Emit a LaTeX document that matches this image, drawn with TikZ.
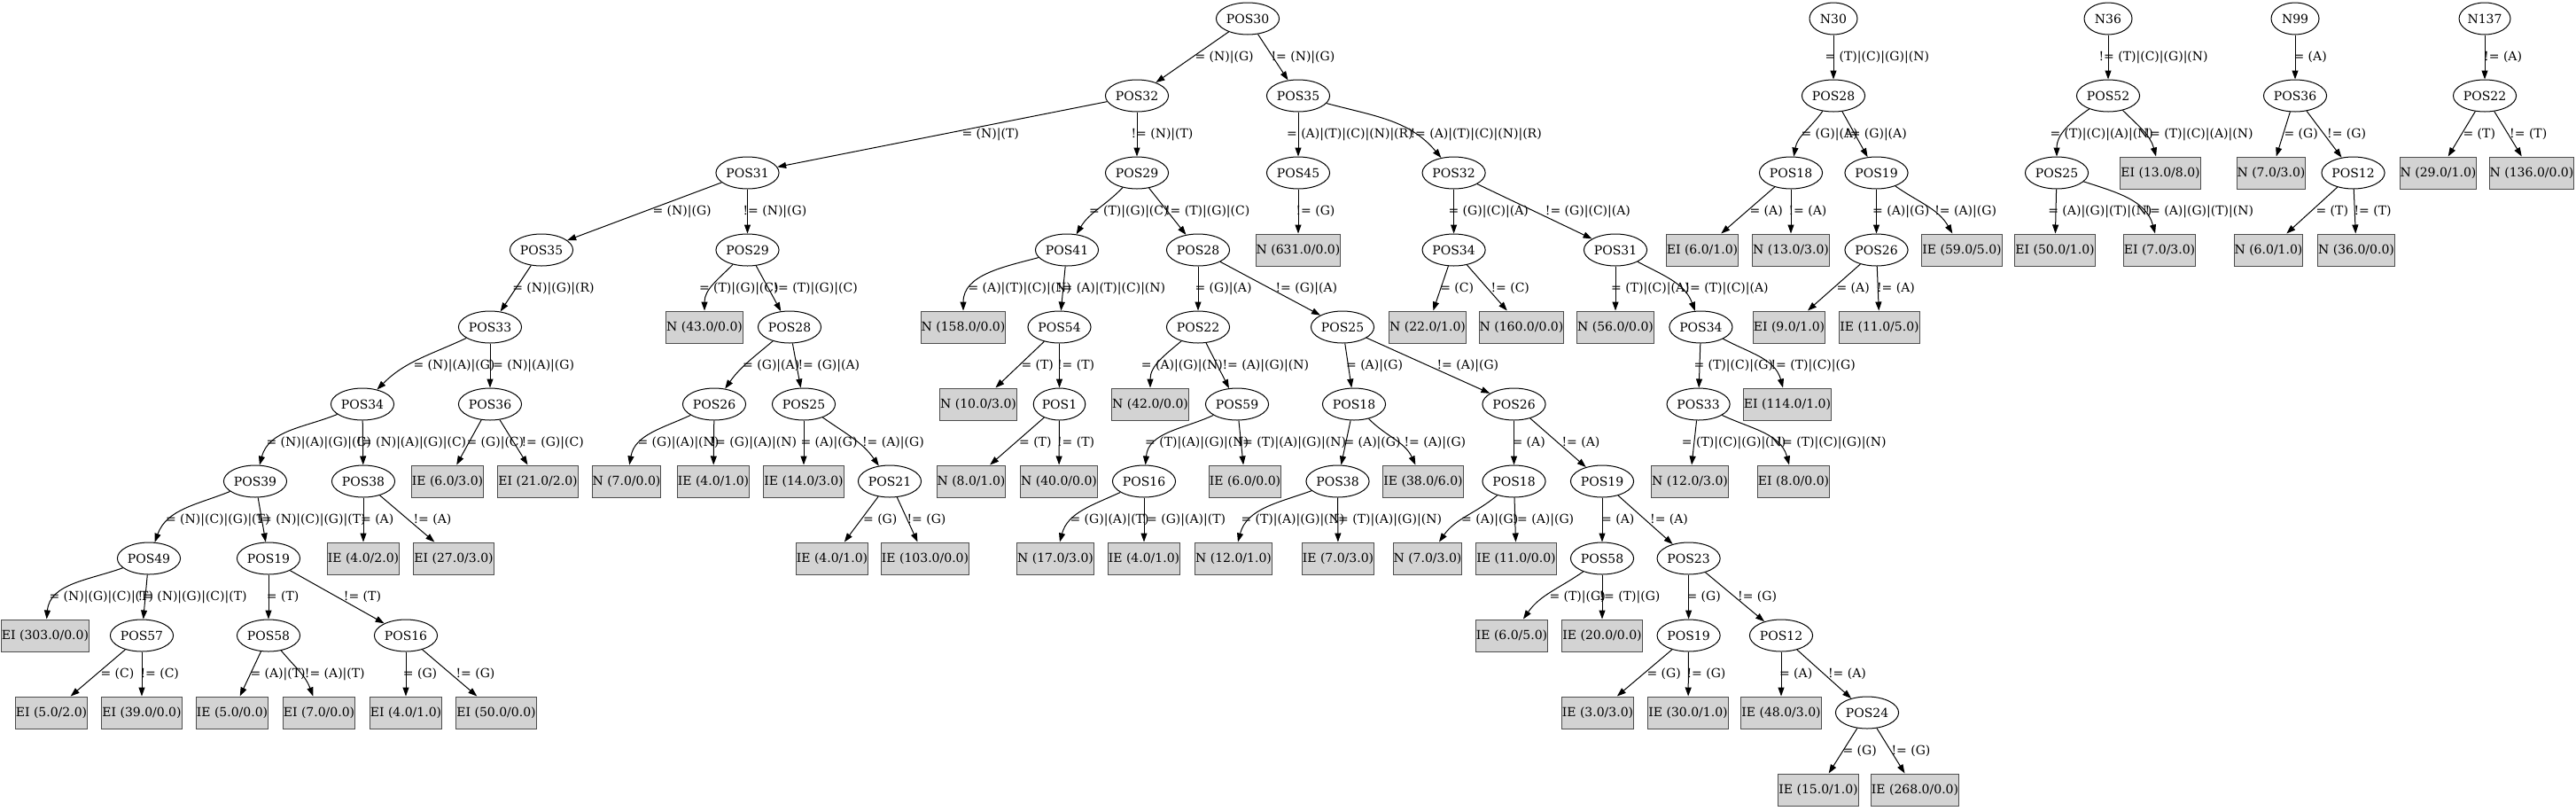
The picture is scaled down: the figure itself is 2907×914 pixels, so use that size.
\documentclass[tikz,border=0pt]{standalone}
\usepackage{fontspec}
\setmainfont{DejaVu Serif}
\usepackage{tikz}
\usetikzlibrary{arrows.meta,shapes.geometric}
\definecolor{LeafGray}{HTML}{D3D3D3}
\definecolor{LeafLine}{HTML}{4D4D4D}
\newcommand{\treefont}{\fontsize{14}{16}\selectfont}

\begin{document}
\begin{tikzpicture}[
    x=1pt, y=1pt,
    split/.style={
      ellipse,
      draw,
      line width=1pt,
      minimum width=54pt,
      minimum height=36pt,
      inner xsep=1pt,
      font=\treefont
    },
    leaf/.style={
      draw=LeafLine,
      fill=LeafGray,
      line width=1pt,
      minimum height=36pt,
      inner xsep=0.5pt,
      font=\treefont
    },
    lbl/.style={
      anchor=west,
      inner sep=0pt,
      font=\treefont
    },
    arr/.style={
      -{Triangle[length=10pt,width=7pt]},
      line width=1pt
    }
  ]
  \useasboundingbox (0,0) rectangle (2907,-914);

  % POS30 tree, splits
  \node[split] (pos30)  at (1408,-21)    {POS30};
  \node[split] (pos32a) at (1283,-108)   {POS32};
  \node[split] (pos35a) at (1465,-108)   {POS35};
  \node[split] (pos31a) at (843.5,-195)  {POS31};
  \node[split] (pos29a) at (1283,-195)   {POS29};
  \node[split] (pos45)  at (1465,-195)   {POS45};
  \node[split] (pos32b) at (1640.6,-195) {POS32};
  \node[split] (pos35b) at (611,-282)    {POS35};
  \node[split] (pos29b) at (843.5,-282)  {POS29};
  \node[split] (pos41)  at (1204,-282)   {POS41};
  \node[split] (pos28b) at (1352,-282)   {POS28};
  \node[split] (pos34a) at (1640.6,-282) {POS34};
  \node[split] (pos31b) at (1823,-282)   {POS31};
  \node[split] (pos33a) at (553,-369)    {POS33};
  \node[split] (pos28c) at (891,-369)    {POS28};
  \node[split] (pos54)  at (1195.5,-369) {POS54};
  \node[split] (pos22b) at (1352,-369)   {POS22};
  \node[split] (pos25b) at (1515,-369)   {POS25};
  \node[split] (pos34b) at (1919.4,-369) {POS34};
  \node[split] (pos34c) at (409,-456)    {POS34};
  \node[split] (pos36b) at (553,-456)    {POS36};
  \node[split] (pos26b) at (806,-456)    {POS26};
  \node[split] (pos25c) at (907,-456)    {POS25};
  \node[split] (pos1)   at (1195.5,-456) {POS1};
  \node[split] (pos59)  at (1396,-456)   {POS59};
  \node[split] (pos18b) at (1528,-456)   {POS18};
  \node[split] (pos26c) at (1708.5,-456) {POS26};
  \node[split] (pos33b) at (1916.6,-456) {POS33};
  \node[split] (pos39)  at (288,-543)    {POS39};
  \node[split] (pos38a) at (410,-543)    {POS38};
  \node[split] (pos21)  at (1004,-543)   {POS21};
  \node[split] (pos16a) at (1291,-543)   {POS16};
  \node[split] (pos38b) at (1509.5,-543) {POS38};
  \node[split] (pos18c) at (1708.5,-543) {POS18};
  \node[split] (pos19b) at (1808,-543)   {POS19};
  \node[split] (pos49)  at (168,-630)    {POS49};
  \node[split] (pos19c) at (303,-630)    {POS19};
  \node[split] (pos58a) at (1808,-630)   {POS58};
  \node[split] (pos23)  at (1905.6,-630) {POS23};
  \node[split] (pos57)  at (160,-717)    {POS57};
  \node[split] (pos58b) at (303,-717)    {POS58};
  \node[split] (pos16b) at (458,-717)    {POS16};
  \node[split] (pos19d) at (1905.6,-717) {POS19};
  \node[split] (pos12b) at (2010,-717)   {POS12};
  \node[split] (pos24)  at (2107,-804)   {POS24};

  % POS30 tree, leaves
  \node[leaf] (n631)  at (1465,-282) {N (631.0/0.0)};
  \node[leaf] (n43)   at (795,-369)  {N (43.0/0.0)};
  \node[leaf] (n158)  at (1087,-369) {N (158.0/0.0)};
  \node[leaf] (n22)   at (1611,-369) {N (22.0/1.0)};
  \node[leaf] (n160)  at (1717,-369) {N (160.0/0.0)};
  \node[leaf] (n56)   at (1823,-369) {N (56.0/0.0)};
  \node[leaf] (n10)   at (1104,-456) {N (10.0/3.0)};
  \node[leaf] (n42)   at (1298,-456) {N (42.0/0.0)};
  \node[leaf] (ei114) at (2017,-456) {EI (114.0/1.0)};
  \node[leaf] (ie6a)  at (505,-543)  {IE (6.0/3.0)};
  \node[leaf] (ei21)  at (607,-543)  {EI (21.0/2.0)};
  \node[leaf] (n7a)   at (707,-543)  {N (7.0/0.0)};
  \node[leaf] (ie4a)  at (805,-543)  {IE (4.0/1.0)};
  \node[leaf] (ie14)  at (907,-543)  {IE (14.0/3.0)};
  \node[leaf] (n8)    at (1096,-543) {N (8.0/1.0)};
  \node[leaf] (n40)   at (1195,-543) {N (40.0/0.0)};
  \node[leaf] (ie6b)  at (1405,-543) {IE (6.0/0.0)};
  \node[leaf] (ie38)  at (1606,-543) {IE (38.0/6.0)};
  \node[leaf] (n12b)  at (1907,-543) {N (12.0/3.0)};
  \node[leaf] (ei8)   at (2024,-543) {EI (8.0/0.0)};
  \node[leaf] (ie4b)  at (410,-630)  {IE (4.0/2.0)};
  \node[leaf] (ei27)  at (512,-630)  {EI (27.0/3.0)};
  \node[leaf] (ie4c)  at (939,-630)  {IE (4.0/1.0)};
  \node[leaf] (ie103) at (1044,-630) {IE (103.0/0.0)};
  \node[leaf] (n17)   at (1191,-630) {N (17.0/3.0)};
  \node[leaf] (ie4d)  at (1291,-630) {IE (4.0/1.0)};
  \node[leaf] (n12a)  at (1392,-630) {N (12.0/1.0)};
  \node[leaf] (ie7)   at (1510,-630) {IE (7.0/3.0)};
  \node[leaf] (n7c)   at (1611,-630) {N (7.0/3.0)};
  \node[leaf] (ie11a) at (1711,-630) {IE (11.0/0.0)};
  \node[leaf] (ei303) at (51,-717)   {EI (303.0/0.0)};
  \node[leaf] (ie6c)  at (1706,-717) {IE (6.0/5.0)};
  \node[leaf] (ie20)  at (1808,-717) {IE (20.0/0.0)};
  \node[leaf] (ei5)   at (58,-804)   {EI (5.0/2.0)};
  \node[leaf] (ei39)  at (160,-804)  {EI (39.0/0.0)};
  \node[leaf] (ie5)   at (262,-804)  {IE (5.0/0.0)};
  \node[leaf] (ei7a)  at (360,-804)  {EI (7.0/0.0)};
  \node[leaf] (ei4)   at (458,-804)  {EI (4.0/1.0)};
  \node[leaf] (ei50a) at (560,-804)  {EI (50.0/0.0)};
  \node[leaf] (ie3)   at (1803,-804) {IE (3.0/3.0)};
  \node[leaf] (ie30)  at (1905,-804) {IE (30.0/1.0)};
  \node[leaf] (ie48)  at (2010,-804) {IE (48.0/3.0)};
  \node[leaf] (ie15)  at (2052,-891) {IE (15.0/1.0)};
  \node[leaf] (ie268) at (2161,-891) {IE (268.0/0.0)};

  % N30 tree
  \node[split] (n30)    at (2069,-21)    {N30};
  \node[split] (pos28a) at (2069,-108)   {POS28};
  \node[split] (pos18a) at (2021,-195)   {POS18};
  \node[split] (pos19a) at (2117.5,-195) {POS19};
  \node[split] (pos26a) at (2117.5,-282) {POS26};
  \node[leaf]  (ei6)    at (1921,-282)   {EI (6.0/1.0)};
  \node[leaf]  (n13)    at (2021,-282)   {N (13.0/3.0)};
  \node[leaf]  (ie59)   at (2214,-282)   {IE (59.0/5.0)};
  \node[leaf]  (ei9)    at (2019,-369)   {EI (9.0/1.0)};
  \node[leaf]  (ie11b)  at (2121,-369)   {IE (11.0/5.0)};

  % N36 tree
  \node[split] (n36)   at (2379,-21)  {N36};
  \node[split] (pos52) at (2379,-108) {POS52};
  \node[split] (pos25a) at (2321,-195) {POS25};
  \node[leaf]  (ei13)  at (2438,-195) {EI (13.0/8.0)};
  \node[leaf]  (ei50b) at (2319,-282) {EI (50.0/1.0)};
  \node[leaf]  (ei7c)  at (2437,-282) {EI (7.0/3.0)};

  % N99 tree
  \node[split] (n99)    at (2590,-21)    {N99};
  \node[split] (pos36a) at (2590,-108)   {POS36};
  \node[split] (pos12a) at (2655.5,-195) {POS12};
  \node[leaf]  (n7b)    at (2563,-195)   {N (7.0/3.0)};
  \node[leaf]  (n6)     at (2560,-282)   {N (6.0/1.0)};
  \node[leaf]  (n36l)   at (2659,-282)   {N (36.0/0.0)};

  % N137 tree
  \node[split] (n137)   at (2804,-21)  {N137};
  \node[split] (pos22a) at (2804,-108) {POS22};
  \node[leaf]  (n29)    at (2751.5,-195) {N (29.0/1.0)};
  \node[leaf]  (n136)   at (2857,-195) {N (136.0/0.0)};

  % Arrows, POS30 tree
  \draw[arr] (pos30) -- (pos32a) node[lbl] at (1348,-64.5) {= (N)|(G)};
  \draw[arr] (pos30) -- (pos35a) node[lbl] at (1434,-64.5) {!= (N)|(G)};
  \draw[arr] (pos32a) -- (pos31a) node[lbl] at (1085,-151.5) {= (N)|(T)};
  \draw[arr] (pos32a) -- (pos29a) node[lbl] at (1276,-151.5) {!= (N)|(T)};
  \draw[arr] (pos35a) -- (pos45) node[lbl] at (1451.6,-151.5) {= (A)|(T)|(C)|(N)|(R)};
  \draw[arr] (pos35a) to[out=-15,in=130] (pos32b) node[lbl] at (1591,-151.5) {!= (A)|(T)|(C)|(N)|(R)};
  \draw[arr] (pos31a) -- (pos35b) node[lbl] at (736,-238.5) {= (N)|(G)};
  \draw[arr] (pos31a) -- (pos29b) node[lbl] at (838,-238.5) {!= (N)|(G)};
  \draw[arr] (pos29a) to[out=-134,in=59] (pos41) node[lbl] at (1228.5,-238.5) {= (T)|(G)|(C)};
  \draw[arr] (pos29a) -- (pos28b) node[lbl] at (1314.6,-238.5) {!= (T)|(G)|(C)};
  \draw[arr] (pos45) -- (n631) node[lbl] at (1462,-238.5) {!= (G)};
  \draw[arr] (pos32b) -- (pos34a) node[lbl] at (1634,-238.5) {= (G)|(C)|(A)};
  \draw[arr] (pos32b) -- (pos31b) node[lbl] at (1743.4,-238.5) {!= (G)|(C)|(A)};
  \draw[arr] (pos35b) -- (pos33a) node[lbl] at (577.8,-325.5) {= (N)|(G)|(R)};
  \draw[arr] (pos29b) to[out=-135,in=90] (n43) node[lbl] at (788.5,-325.5) {= (T)|(G)|(C)};
  \draw[arr] (pos29b) -- (pos28c) node[lbl] at (872,-325.5) {!= (T)|(G)|(C)};
  \draw[arr] (pos41) to[out=-165,in=90] (n158) node[lbl] at (1092,-325.5) {= (A)|(T)|(C)|(N)};
  \draw[arr] (pos41) -- (pos54) node[lbl] at (1192.6,-325.5) {!= (A)|(T)|(C)|(N)};
  \draw[arr] (pos28b) -- (pos22b) node[lbl] at (1348,-325.5) {= (G)|(A)};
  \draw[arr] (pos28b) -- (pos25b) node[lbl] at (1439,-325.5) {!= (G)|(A)};
  \draw[arr] (pos34a) -- (n22) node[lbl] at (1624.8,-325.5) {= (C)};
  \draw[arr] (pos34a) -- (n160) node[lbl] at (1682,-325.5) {!= (C)};
  \draw[arr] (pos31b) -- (n56) node[lbl] at (1817.6,-325.5) {= (T)|(C)|(A)};
  \draw[arr] (pos31b) to[out=-28,in=110] (pos34b) node[lbl] at (1901,-325.5) {!= (T)|(C)|(A)};
  \draw[arr] (pos33a) to[out=-155,in=45] (pos34c) node[lbl] at (466,-412.5) {= (N)|(A)|(G)};
  \draw[arr] (pos33a) -- (pos36b) node[lbl] at (550,-412.5) {!= (N)|(A)|(G)};
  \draw[arr] (pos28c) to[out=-140,in=55] (pos26b) node[lbl] at (837.7,-412.5) {= (G)|(A)};
  \draw[arr] (pos28c) -- (pos25c) node[lbl] at (900,-412.5) {!= (G)|(A)};
  \draw[arr] (pos54) -- (n10) node[lbl] at (1152,-412.5) {= (T)};
  \draw[arr] (pos54) -- (pos1) node[lbl] at (1192.6,-412.5) {!= (T)};
  \draw[arr] (pos22b) to[out=-140,in=90] (n42) node[lbl] at (1287.4,-412.5) {= (A)|(G)|(N)};
  \draw[arr] (pos22b) -- (pos59) node[lbl] at (1379,-412.5) {!= (A)|(G)|(N)};
  \draw[arr] (pos25b) -- (pos18b) node[lbl] at (1518.6,-412.5) {= (A)|(G)};
  \draw[arr] (pos25b) -- (pos26c) node[lbl] at (1621,-412.5) {!= (A)|(G)};
  \draw[arr] (pos34b) -- (pos33b) node[lbl] at (1911,-412.5) {= (T)|(C)|(G)};
  \draw[arr] (pos34b) to[out=-28,in=105] (ei114) node[lbl] at (1998,-412.5) {!= (T)|(C)|(G)};
  \draw[arr] (pos34c) to[out=-158,in=75] (pos39) node[lbl] at (300,-499.5) {= (N)|(A)|(G)|(C)};
  \draw[arr] (pos34c) -- (pos38a) node[lbl] at (401.8,-499.5) {!= (N)|(A)|(G)|(C)};
  \draw[arr] (pos36b) -- (ie6a) node[lbl] at (526,-499.5) {= (G)|(C)};
  \draw[arr] (pos36b) -- (ei21) node[lbl] at (588,-499.5) {!= (G)|(C)};
  \draw[arr] (pos26b) to[out=-155,in=80] (n7a) node[lbl] at (719,-499.5) {= (G)|(A)|(N)};
  \draw[arr] (pos26b) -- (ie4a) node[lbl] at (801,-499.5) {!= (G)|(A)|(N)};
  \draw[arr] (pos25c) -- (ie14) node[lbl] at (903,-499.5) {= (A)|(G)};
  \draw[arr] (pos25c) to[out=-35,in=125] (pos21) node[lbl] at (972.6,-499.5) {!= (A)|(G)};
  \draw[arr] (pos1) -- (n8) node[lbl] at (1149.6,-499.5) {= (T)};
  \draw[arr] (pos1) -- (n40) node[lbl] at (1192.6,-499.5) {!= (T)};
  \draw[arr] (pos59) to[out=-155,in=85] (pos16a) node[lbl] at (1291.7,-499.5) {= (T)|(A)|(G)|(N)};
  \draw[arr] (pos59) -- (ie6b) node[lbl] at (1396,-499.5) {!= (T)|(A)|(G)|(N)};
  \draw[arr] (pos18b) -- (pos38b) node[lbl] at (1516,-499.5) {= (A)|(G)};
  \draw[arr] (pos18b) to[out=-45,in=115] (ie38) node[lbl] at (1584,-499.5) {!= (A)|(G)};
  \draw[arr] (pos26c) -- (pos18c) node[lbl] at (1706,-499.5) {= (A)};
  \draw[arr] (pos26c) -- (pos19b) node[lbl] at (1762,-499.5) {!= (A)};
  \draw[arr] (pos33b) -- (n12b) node[lbl] at (1897.4,-499.5) {= (T)|(C)|(G)|(N)};
  \draw[arr] (pos33b) to[out=-25,in=105] (ei8) node[lbl] at (2005,-499.5) {!= (T)|(C)|(G)|(N)};
  \draw[arr] (pos39) to[out=-158,in=70] (pos49) node[lbl] at (186.5,-586.5) {= (N)|(C)|(G)|(T)};
  \draw[arr] (pos39) -- (pos19c) node[lbl] at (289,-586.5) {!= (N)|(C)|(G)|(T)};
  \draw[arr] (pos38a) -- (ie4b) node[lbl] at (406.6,-586.5) {= (A)};
  \draw[arr] (pos38a) -- (ei27) node[lbl] at (466,-586.5) {!= (A)};
  \draw[arr] (pos21) -- (ie4c) node[lbl] at (973.6,-586.5) {= (G)};
  \draw[arr] (pos21) -- (ie103) node[lbl] at (1023,-586.5) {!= (G)};
  \draw[arr] (pos16a) to[out=-155,in=75] (n17) node[lbl] at (1207,-586.5) {= (G)|(A)|(T)};
  \draw[arr] (pos16a) -- (ie4d) node[lbl] at (1288,-586.5) {!= (G)|(A)|(T)};
  \draw[arr] (pos38b) to[out=-160,in=75] (n12a) node[lbl] at (1400,-586.5) {= (T)|(A)|(G)|(N)};
  \draw[arr] (pos38b) -- (ie7) node[lbl] at (1504,-586.5) {!= (T)|(A)|(G)|(N)};
  \draw[arr] (pos18c) to[out=-140,in=55] (n7c) node[lbl] at (1648.7,-586.5) {= (A)|(G)};
  \draw[arr] (pos18c) -- (ie11a) node[lbl] at (1706,-586.5) {!= (A)|(G)};
  \draw[arr] (pos19b) -- (pos58a) node[lbl] at (1806.6,-586.5) {= (A)};
  \draw[arr] (pos19b) -- (pos23) node[lbl] at (1861.6,-586.5) {!= (A)};
  \draw[arr] (pos49) to[out=-160,in=85] (ei303) node[lbl] at (55,-673.5) {= (N)|(G)|(C)|(T)};
  \draw[arr] (pos49) -- (pos57) node[lbl] at (155,-673.5) {!= (N)|(G)|(C)|(T)};
  \draw[arr] (pos19c) -- (pos58b) node[lbl] at (300.4,-673.5) {= (T)};
  \draw[arr] (pos19c) -- (pos16b) node[lbl] at (387.4,-673.5) {!= (T)};
  \draw[arr] (pos58a) to[out=-145,in=55] (ie6c) node[lbl] at (1748,-673.5) {= (T)|(G)};
  \draw[arr] (pos58a) -- (ie20) node[lbl] at (1804,-673.5) {!= (T)|(G)};
  \draw[arr] (pos23) -- (pos19d) node[lbl] at (1903,-673.5) {= (G)};
  \draw[arr] (pos23) -- (pos12b) node[lbl] at (1960.6,-673.5) {!= (G)};
  \draw[arr] (pos57) -- (ei5) node[lbl] at (113,-760.5) {= (C)};
  \draw[arr] (pos57) -- (ei39) node[lbl] at (158,-760.5) {!= (C)};
  \draw[arr] (pos58b) -- (ie5) node[lbl] at (282,-760.5) {= (A)|(T)};
  \draw[arr] (pos58b) to[out=-50,in=110] (ei7a) node[lbl] at (343.4,-760.5) {!= (A)|(T)};
  \draw[arr] (pos16b) -- (ei4) node[lbl] at (454.4,-760.5) {= (G)};
  \draw[arr] (pos16b) -- (ei50a) node[lbl] at (514,-760.5) {!= (G)};
  \draw[arr] (pos19d) -- (ie3) node[lbl] at (1858,-760.5) {= (G)};
  \draw[arr] (pos19d) -- (ie30) node[lbl] at (1903,-760.5) {!= (G)};
  \draw[arr] (pos12b) -- (ie48) node[lbl] at (2007.5,-760.5) {= (A)};
  \draw[arr] (pos12b) -- (pos24) node[lbl] at (2062.5,-760.5) {!= (A)};
  \draw[arr] (pos24) -- (ie15) node[lbl] at (2079,-847.5) {= (G)};
  \draw[arr] (pos24) -- (ie268) node[lbl] at (2134,-847.5) {!= (G)};

  % Arrows, N30 tree
  \draw[arr] (n30) -- (pos28a) node[lbl] at (2059,-64.5) {= (T)|(C)|(G)|(N)};
  \draw[arr] (pos28a) to[out=-125,in=80] (pos18a) node[lbl] at (2032,-151.5) {= (G)|(A)};
  \draw[arr] (pos28a) -- (pos19a) node[lbl] at (2081.6,-151.5) {!= (G)|(A)};
  \draw[arr] (pos18a) -- (ei6) node[lbl] at (1974,-238.5) {= (A)};
  \draw[arr] (pos18a) -- (n13) node[lbl] at (2018,-238.5) {!= (A)};
  \draw[arr] (pos19a) -- (pos26a) node[lbl] at (2112.7,-238.5) {= (A)|(G)};
  \draw[arr] (pos19a) to[out=-35,in=120] (ie59) node[lbl] at (2182.8,-238.5) {!= (A)|(G)};
  \draw[arr] (pos26a) -- (ei9) node[lbl] at (2072,-325.5) {= (A)};
  \draw[arr] (pos26a) -- (ie11b) node[lbl] at (2117.5,-325.5) {!= (A)};

  % Arrows, N36 tree
  \draw[arr] (n36) -- (pos52) node[lbl] at (2368,-64.5) {!= (T)|(C)|(G)|(N)};
  \draw[arr] (pos52) to[out=-145,in=90] (pos25a) node[lbl] at (2313,-151.5) {= (T)|(C)|(A)|(N)};
  \draw[arr] (pos52) to[out=-45,in=105] (ei13) node[lbl] at (2420,-151.5) {!= (T)|(C)|(A)|(N)};
  \draw[arr] (pos25a) -- (ei50b) node[lbl] at (2310.8,-238.5) {= (A)|(G)|(T)|(N)};
  \draw[arr] (pos25a) to[out=-18,in=105] (ei7c) node[lbl] at (2420,-238.5) {!= (A)|(G)|(T)|(N)};

  % Arrows, N99 tree
  \draw[arr] (n99) -- (pos36a) node[lbl] at (2588,-64.5) {= (A)};
  \draw[arr] (pos36a) -- (n7b) node[lbl] at (2577,-151.5) {= (G)};
  \draw[arr] (pos36a) -- (pos12a) node[lbl] at (2625.6,-151.5) {!= (G)};
  \draw[arr] (pos12a) -- (n6) node[lbl] at (2613,-238.5) {= (T)};
  \draw[arr] (pos12a) -- (n36l) node[lbl] at (2656,-238.5) {!= (T)};

  % Arrows, N137 tree
  \draw[arr] (n137) -- (pos22a) node[lbl] at (2802.7,-64.5) {!= (A)};
  \draw[arr] (pos22a) -- (n29) node[lbl] at (2779,-151.5) {= (T)};
  \draw[arr] (pos22a) -- (n136) node[lbl] at (2831.7,-151.5) {!= (T)};

\end{tikzpicture}
\end{document}
